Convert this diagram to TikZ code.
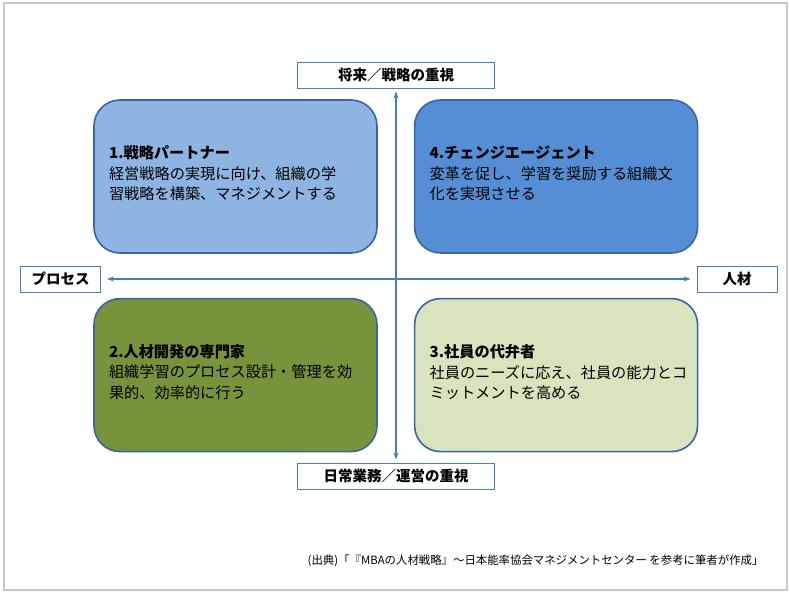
\documentclass[tikz,border=0pt]{standalone}
\usepackage{fontspec}
\setmainfont{Noto Sans CJK JP}
\usepackage{tikz}
\usetikzlibrary{positioning,arrows.meta}

\definecolor{boxline}{HTML}{3B64A0}
\definecolor{axisblue}{HTML}{4A7EBB}
\definecolor{strategyblue}{HTML}{8EB4E3}
\definecolor{changeblue}{HTML}{558ED5}
\definecolor{devgreen}{HTML}{77933C}
\definecolor{paleGreen}{HTML}{D7E4BD}
\definecolor{framegray}{HTML}{C8C8C8}
\newcommand{\quadpad}{\par\vspace*{6pt}}

\begin{document}
\begin{tikzpicture}[x=1pt, y=-1pt,
			quadnode/.style={rectangle, rounded corners=26pt, draw=boxline, line width=1.6pt, minimum width=283pt, minimum height=153pt, inner xsep=15pt, text width=253pt, align=left, font=\fontsize{15.2}{20.5}\selectfont, execute at end node=\quadpad},
			labelnode/.style={rectangle, draw=axisblue, line width=0.8pt, minimum height=26pt, font=\fontsize{14.5}{16}\selectfont\bfseries},
			axisline/.style={axisblue, line width=1.3pt, {Stealth[length=7pt,width=5pt]}-{Stealth[length=7pt,width=5pt]}},
		]
		
			%Frame
			\useasboundingbox (0,0) rectangle (790,593);
			\draw[framegray, line width=1.2pt] (4,3) rectangle (787,590);
		
			%Nodes
			\node[quadnode, fill=strategyblue]	(partner)	at (235.5,176.5)		{\textbf{1.戦略パートナー}\\経営戦略の実現に向け、組織の学\\習戦略を構築、マネジメントする};
			\node[quadnode, fill=changeblue]	(agent)		[right=36pt of partner]	{\textbf{4.チェンジエージェント}\\変革を促し、学習を奨励する組織文\\化を実現させる};
			\node[quadnode, fill=devgreen]		(expert)	[below=44pt of partner]	{\textbf{2.人材開発の専門家}\\組織学習のプロセス設計・管理を効\\果的、効率的に行う};
			\node[quadnode, fill=paleGreen]		(advocate)	[right=36pt of expert]	{\textbf{3.社員の代弁者}\\社員のニーズに応え、社員の能力とコ\\ミットメントを高める};
		
			\node[labelnode, minimum width=197pt]	(future)	at (396,75)		{将来／戦略の重視};
			\node[labelnode, minimum width=197pt]	(daily)		at (396,476)	{日常業務／運営の重視};
			\node[labelnode, minimum width=80pt]	(process)	at (60.5,279)	{プロセス};
			\node[labelnode, minimum width=80pt]	(people)	at (737,279)	{人材};
		
			\node[anchor=east, font=\fontsize{11.4}{13}\selectfont]	(source)	at (767,561)	{(出典)「『MBAの人材戦略』～日本能率協会マネジメントセンター を参考に筆者が作成」};
		
			%Lines
			\draw[axisline, shorten <=3pt, shorten >=3pt]	(future) -- (daily);
			\draw[axisline, shorten <=6pt, shorten >=6pt]	(process) -- (people);
		
		\end{tikzpicture}
\end{document}
